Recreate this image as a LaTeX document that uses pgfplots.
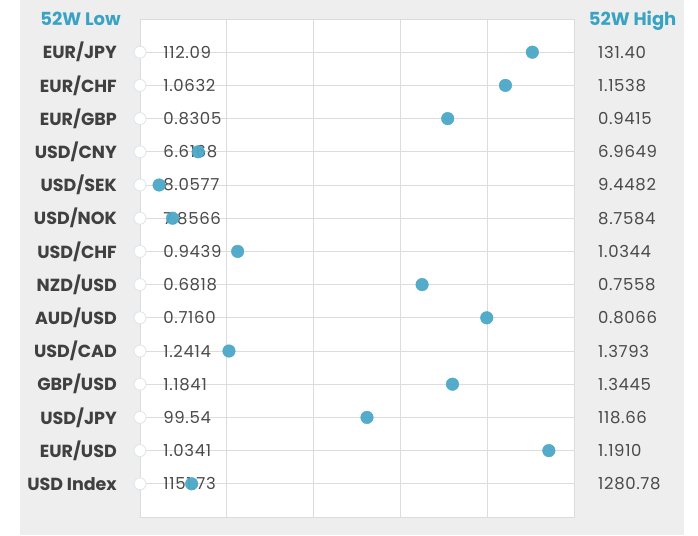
\documentclass[border=0pt]{standalone}
\usepackage{pgfplots}
\usepackage{pgfplotstable}
\pgfplotsset{compat=1.18}
\usepackage{fontspec}
\setmainfont{Poppins}

\definecolor{panel}{HTML}{EEEEEE}
\definecolor{gridc}{HTML}{DCDCDC}
\definecolor{dotc}{HTML}{4BA8C8}
\definecolor{headc}{HTML}{3AA3C4}
\definecolor{labc}{HTML}{404040}
\definecolor{numc}{HTML}{4A4A4A}
\definecolor{ringc}{HTML}{DCE6EC}

% pos = where the current rate sits in its 52-week range (0 = low, 100 = high)
\pgfplotstableread{
row pos  low     high
1   90.4 112.09  131.40
2   84.2 1.0632  1.1538
3   70.9 0.8305  0.9415
4   13.4 6.6168  6.9649
5   4.4  8.0577  9.4482
6   7.5  7.8566  8.7584
7   22.5 0.9439  1.0344
8   65.0 0.6818  0.7558
9   79.9 0.7160  0.8066
10  20.5 1.2414  1.3793
11  72.0 1.1841  1.3445
12  52.3 99.54   118.66
13  94.2 1.0341  1.1910
14  11.9 1151.73 1280.78
}\fx

\newcommand\numfont{\fontsize{16.5}{18}\selectfont\addfontfeatures{LetterSpace=4}}

\begin{document}
\begin{tikzpicture}[x=1pt,y=1pt]
\fill[white] (0,0) rectangle (698,535);
\fill[panel] (20,0) rectangle (684,535);
\begin{axis}[
    at={(140pt,18pt)}, anchor=south west,
    scale only axis,
    width=434pt, height=498pt,
    xmin=0, xmax=100,
    ymin=0, ymax=15,
    y dir=reverse,
    xtick={0,20,...,100},
    xticklabels={},
    ytick={1,...,14},
    yticklabels={EUR/JPY,EUR/CHF,EUR/GBP,USD/CNY,USD/SEK,USD/NOK,USD/CHF,NZD/USD,AUD/USD,USD/CAD,GBP/USD,USD/JPY,EUR/USD,USD Index},
    yticklabel style={font=\bfseries\fontsize{17.5}{20}\selectfont, text=labc, anchor=east, inner sep=0pt, xshift=-23pt},
    major tick length=0pt,
    grid=major,
    grid style={gridc, line width=1pt},
    axis line style={gridc, line width=1pt},
    axis background/.style={fill=white},
    clip=false,
]

% open rings at the 52W low, with the low value beside them
\addplot[only marks, mark=*, mark size=6pt,
    mark options={fill=white, draw=ringc, line width=0.8pt},
    nodes near coords, point meta=explicit symbolic,
    every node near coord/.append style={anchor=west, xshift=23pt, inner sep=0pt,
        font=\numfont, text=numc}]
    table[x expr=0, y=row, meta=low]{\fx};

% 52W high values on the right
\addplot[draw=none,
    nodes near coords, point meta=explicit symbolic,
    every node near coord/.append style={anchor=west, xshift=24pt, inner sep=0pt,
        font=\numfont, text=numc}]
    table[x expr=100, y=row, meta=high]{\fx};

% current position
\addplot[only marks, mark=*, mark size=6.3pt, color=dotc, fill opacity=0.95]
    table[x=pos, y=row]{\fx};

\node[anchor=base, font=\bfseries\fontsize{18}{20}\selectfont, text=headc]
    at (axis cs:-13.7,0.21) {52W Low};
\node[anchor=base, font=\bfseries\fontsize{18}{20}\selectfont, text=headc]
    at (axis cs:113.5,0.21) {52W High};
\end{axis}
\end{tikzpicture}
\end{document}
